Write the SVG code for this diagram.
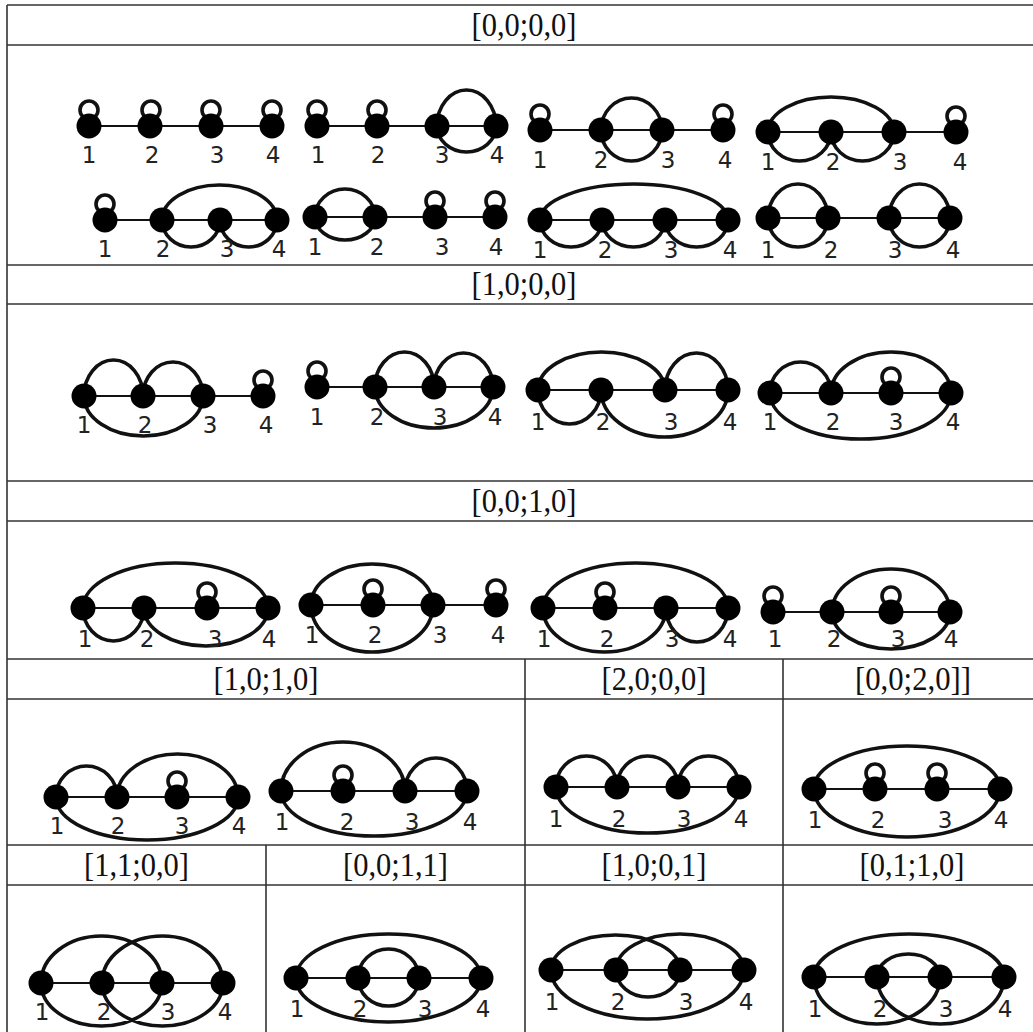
<svg xmlns="http://www.w3.org/2000/svg" width="1033" height="1032" viewBox="0 0 1033 1032">
<style>
.grid line{stroke:#333;stroke-width:1.6}
.hdr{font-family:"Liberation Serif",serif;font-size:33px;fill:#111;text-anchor:middle}
.ln{stroke:#111;stroke-width:2;fill:none}
.arc{stroke:#111;stroke-width:3.6;fill:none}
.loop{stroke:#111;stroke-width:3.6;fill:none}
.nd{fill:#000}
.lb{font-family:"DejaVu Sans",sans-serif;font-size:23px;fill:#222;text-anchor:middle}
</style>
<rect width="1033" height="1032" fill="#fff"/>
<g id="table" class="grid">
<line x1="7" y1="5" x2="1033" y2="5"/>
<line x1="7" y1="45" x2="1033" y2="45"/>
<line x1="7" y1="265" x2="1033" y2="265"/>
<line x1="7" y1="304" x2="1033" y2="304"/>
<line x1="7" y1="481" x2="1033" y2="481"/>
<line x1="7" y1="521" x2="1033" y2="521"/>
<line x1="7" y1="659" x2="1033" y2="659"/>
<line x1="7" y1="699" x2="1033" y2="699"/>
<line x1="7" y1="845" x2="1033" y2="845"/>
<line x1="7" y1="885" x2="1033" y2="885"/>
<line x1="7" y1="5" x2="7" y2="1032"/>
<line x1="525" y1="659" x2="525" y2="1032"/>
<line x1="783" y1="659" x2="783" y2="1032"/>
<line x1="266" y1="845" x2="266" y2="1032"/>
</g>
<g id="headers">
<text class="hdr" x="524" y="36" textLength="105" lengthAdjust="spacingAndGlyphs">[0,0;0,0]</text>
<text class="hdr" x="524" y="295" textLength="105" lengthAdjust="spacingAndGlyphs">[1,0;0,0]</text>
<text class="hdr" x="524" y="512" textLength="105" lengthAdjust="spacingAndGlyphs">[0,0;1,0]</text>
<text class="hdr" x="266" y="690" textLength="105" lengthAdjust="spacingAndGlyphs">[1,0;1,0]</text>
<text class="hdr" x="654" y="690" textLength="105" lengthAdjust="spacingAndGlyphs">[2,0;0,0]</text>
<text class="hdr" x="913" y="690" textLength="116" lengthAdjust="spacingAndGlyphs">[0,0;2,0]]</text>
<text class="hdr" x="136.5" y="876" textLength="105" lengthAdjust="spacingAndGlyphs">[1,1;0,0]</text>
<text class="hdr" x="395.5" y="876" textLength="105" lengthAdjust="spacingAndGlyphs">[0,0;1,1]</text>
<text class="hdr" x="654" y="876" textLength="105" lengthAdjust="spacingAndGlyphs">[1,0;0,1]</text>
<text class="hdr" x="912" y="876" textLength="105" lengthAdjust="spacingAndGlyphs">[0,1;1,0]</text>
</g>
<g id="connectors">
<path class="ln" d="M89 126H272M317 126H496M540 130H723M768 132H956M105 220H277M315 217H495M540 220H728M768 218H950M84 396H263M317 387H493M538 390H728M770 393H951M83 608H268M311 605H496M543 608H728M773 612H950M56 797H238M281 791H467M556 787H739M814 789H1000M41 983H223M296 978H481M551 970H744M814 977H1004"/>
<path class="arc" d="M437 126A29.5 36 0 0 1 496 126M437 126A29.5 26 0 0 0 496 126"/>
<path class="arc" d="M601 130A30.5 32 0 0 1 662 130M601 130A30.5 31 0 0 0 662 130"/>
<path class="arc" d="M768 132A63 35 0 0 1 894 132M768 132A31.5 29 0 0 0 831 132M831 132A31.5 29 0 0 0 894 132"/>
<path class="arc" d="M162 220A57.5 35 0 0 1 277 220M162 220A29 27 0 0 0 220 220M220 220A28.5 27 0 0 0 277 220"/>
<path class="arc" d="M315 217A30 28 0 0 1 375 217M315 217A30 23 0 0 0 375 217"/>
<path class="arc" d="M540 220A94 36 0 0 1 728 220M540 220A31 27 0 0 0 602 220M602 220A31.5 27 0 0 0 665 220M665 220A31.5 27 0 0 0 728 220"/>
<path class="arc" d="M768 218A30 34 0 0 1 828 218M768 218A30 29 0 0 0 828 218M889 218A30.5 34 0 0 1 950 218M889 218A30.5 29 0 0 0 950 218"/>
<path class="arc" d="M84 396A29.5 36 0 0 1 143 396M143 396A30 34 0 0 1 203 396M84 396A59.5 40 0 0 0 203 396"/>
<path class="arc" d="M375 387A29.5 35 0 0 1 434 387M434 387A29.5 34 0 0 1 493 387M375 387A59 41 0 0 0 493 387"/>
<path class="arc" d="M538 390A63.5 38 0 0 1 665 390M665 390A31.5 37 0 0 1 728 390M538 390A31.5 34 0 0 0 601 390M601 390A63.5 47 0 0 0 728 390"/>
<path class="arc" d="M770 393A30.5 31 0 0 1 831 393M831 393A60 41 0 0 1 951 393M770 393A90.5 46 0 0 0 951 393"/>
<path class="arc" d="M83 608A92.5 45 0 0 1 268 608M83 608A30.5 33 0 0 0 144 608M144 608A62 38 0 0 0 268 608"/>
<path class="arc" d="M311 605A61 41 0 0 1 433 605M311 605A61 47 0 0 0 433 605"/>
<path class="arc" d="M543 608A92.5 45 0 0 1 728 608M543 608A61.5 44 0 0 0 666 608M666 608A31 34 0 0 0 728 608"/>
<path class="arc" d="M832 612A59 43 0 0 1 950 612M832 612A59 37 0 0 0 950 612"/>
<path class="arc" d="M56 797A30.5 31 0 0 1 117 797M117 797A60.5 43 0 0 1 238 797M56 797A91 43 0 0 0 238 797"/>
<path class="arc" d="M281 791A62 49 0 0 1 405 791M405 791A31 33 0 0 1 467 791M281 791A93 45 0 0 0 467 791"/>
<path class="arc" d="M556 787A30.5 31 0 0 1 617 787M617 787A30.5 31 0 0 1 678 787M678 787A30.5 31 0 0 1 739 787M556 787A91.5 46 0 0 0 739 787"/>
<path class="arc" d="M814 789A93 43 0 0 1 1000 789M814 789A93 48 0 0 0 1000 789"/>
<path class="arc" d="M41 983A60.5 47 0 0 1 162 983M102 983A60.5 47 0 0 1 223 983M41 983A60.5 43 0 0 0 162 983M102 983A60.5 43 0 0 0 223 983"/>
<path class="arc" d="M296 978A92.5 44 0 0 1 481 978M358 978A30.5 29 0 0 1 419 978M358 978A30.5 28 0 0 0 419 978M296 978A92.5 44 0 0 0 481 978"/>
<path class="arc" d="M551 970A64.5 35 0 0 1 680 970M616 970A64 36 0 0 1 744 970M616 970A32 27 0 0 0 680 970M551 970A96.5 49 0 0 0 744 970"/>
<path class="arc" d="M814 977A95 43 0 0 1 1004 977M877 977A31.5 23 0 0 1 940 977M814 977A63 47 0 0 0 940 977M877 977A63.5 47 0 0 0 1004 977"/>
</g>
<g id="loops">
<circle class="loop" cx="89" cy="110" r="9"/><circle class="loop" cx="151" cy="110" r="9"/><circle class="loop" cx="211" cy="110" r="9"/><circle class="loop" cx="272" cy="110" r="9"/>
<circle class="loop" cx="317" cy="110" r="9"/><circle class="loop" cx="377" cy="110" r="9"/>
<circle class="loop" cx="540" cy="114" r="9"/><circle class="loop" cx="723" cy="114" r="9"/>
<circle class="loop" cx="956" cy="116" r="9"/>
<circle class="loop" cx="105" cy="204" r="9"/>
<circle class="loop" cx="435" cy="201" r="9"/><circle class="loop" cx="495" cy="201" r="9"/>
<circle class="loop" cx="263" cy="380" r="9"/>
<circle class="loop" cx="317" cy="371" r="9"/>
<circle class="loop" cx="891" cy="377" r="9"/>
<circle class="loop" cx="207" cy="592" r="9"/>
<circle class="loop" cx="373" cy="589" r="9"/><circle class="loop" cx="496" cy="589" r="9"/>
<circle class="loop" cx="605" cy="592" r="9"/>
<circle class="loop" cx="773" cy="596" r="9"/><circle class="loop" cx="891" cy="596" r="9"/>
<circle class="loop" cx="177" cy="781" r="9"/>
<circle class="loop" cx="343" cy="775" r="9"/>
<circle class="loop" cx="875" cy="773" r="9"/><circle class="loop" cx="937" cy="773" r="9"/>
</g>
<g id="g-A"><circle class="nd" cx="89" cy="126" r="12.5"/><circle class="nd" cx="150" cy="126" r="12.5"/><circle class="nd" cx="211" cy="126" r="12.5"/><circle class="nd" cx="272" cy="126" r="12.5"/>
<text class="lb" x="89" y="163">1</text><text class="lb" x="152" y="163">2</text><text class="lb" x="217" y="163">3</text><text class="lb" x="273" y="163">4</text></g>
<g id="g-B"><circle class="nd" cx="317" cy="126" r="12.5"/><circle class="nd" cx="377" cy="126" r="12.5"/><circle class="nd" cx="437" cy="126" r="12.5"/><circle class="nd" cx="496" cy="126" r="12.5"/>
<text class="lb" x="318" y="163">1</text><text class="lb" x="378" y="163">2</text><text class="lb" x="442" y="163">3</text><text class="lb" x="497" y="163">4</text></g>
<g id="g-C"><circle class="nd" cx="540" cy="130" r="12.5"/><circle class="nd" cx="601" cy="130" r="12.5"/><circle class="nd" cx="662" cy="130" r="12.5"/><circle class="nd" cx="723" cy="130" r="12.5"/>
<text class="lb" x="540" y="168">1</text><text class="lb" x="601" y="168">2</text><text class="lb" x="668" y="168">3</text><text class="lb" x="725" y="168">4</text></g>
<g id="g-D"><circle class="nd" cx="768" cy="132" r="12.5"/><circle class="nd" cx="831" cy="132" r="12.5"/><circle class="nd" cx="894" cy="132" r="12.5"/><circle class="nd" cx="956" cy="132" r="12.5"/>
<text class="lb" x="768" y="170">1</text><text class="lb" x="833" y="170">2</text><text class="lb" x="900" y="170">3</text><text class="lb" x="960" y="170">4</text></g>
<g id="g-E"><circle class="nd" cx="105" cy="220" r="12.5"/><circle class="nd" cx="162" cy="220" r="12.5"/><circle class="nd" cx="220" cy="220" r="12.5"/><circle class="nd" cx="277" cy="220" r="12.5"/>
<text class="lb" x="105" y="257">1</text><text class="lb" x="163" y="257">2</text><text class="lb" x="227" y="257">3</text><text class="lb" x="279" y="257">4</text></g>
<g id="g-F"><circle class="nd" cx="315" cy="217" r="12.5"/><circle class="nd" cx="375" cy="217" r="12.5"/><circle class="nd" cx="435" cy="217" r="12.5"/><circle class="nd" cx="495" cy="217" r="12.5"/>
<text class="lb" x="315" y="255">1</text><text class="lb" x="377" y="255">2</text><text class="lb" x="442" y="255">3</text><text class="lb" x="496" y="255">4</text></g>
<g id="g-G"><circle class="nd" cx="540" cy="220" r="12.5"/><circle class="nd" cx="602" cy="220" r="12.5"/><circle class="nd" cx="665" cy="220" r="12.5"/><circle class="nd" cx="728" cy="220" r="12.5"/>
<text class="lb" x="540" y="258">1</text><text class="lb" x="605" y="258">2</text><text class="lb" x="671" y="258">3</text><text class="lb" x="730" y="258">4</text></g>
<g id="g-H"><circle class="nd" cx="768" cy="218" r="12.5"/><circle class="nd" cx="828" cy="218" r="12.5"/><circle class="nd" cx="889" cy="218" r="12.5"/><circle class="nd" cx="950" cy="218" r="12.5"/>
<text class="lb" x="768" y="258">1</text><text class="lb" x="831" y="258">2</text><text class="lb" x="895" y="258">3</text><text class="lb" x="953" y="258">4</text></g>
<g id="g-I"><circle class="nd" cx="84" cy="396" r="12.5"/><circle class="nd" cx="143" cy="396" r="12.5"/><circle class="nd" cx="203" cy="396" r="12.5"/><circle class="nd" cx="263" cy="396" r="12.5"/>
<text class="lb" x="84" y="433">1</text><text class="lb" x="145" y="433">2</text><text class="lb" x="210" y="433">3</text><text class="lb" x="266" y="433">4</text></g>
<g id="g-J"><circle class="nd" cx="317" cy="387" r="12.5"/><circle class="nd" cx="375" cy="387" r="12.5"/><circle class="nd" cx="434" cy="387" r="12.5"/><circle class="nd" cx="493" cy="387" r="12.5"/>
<text class="lb" x="317" y="425">1</text><text class="lb" x="377" y="425">2</text><text class="lb" x="440" y="425">3</text><text class="lb" x="495" y="425">4</text></g>
<g id="g-K"><circle class="nd" cx="538" cy="390" r="12.5"/><circle class="nd" cx="601" cy="390" r="12.5"/><circle class="nd" cx="665" cy="390" r="12.5"/><circle class="nd" cx="728" cy="390" r="12.5"/>
<text class="lb" x="538" y="430">1</text><text class="lb" x="603" y="430">2</text><text class="lb" x="671" y="430">3</text><text class="lb" x="730" y="430">4</text></g>
<g id="g-L"><circle class="nd" cx="770" cy="393" r="12.5"/><circle class="nd" cx="831" cy="393" r="12.5"/><circle class="nd" cx="891" cy="393" r="12.5"/><circle class="nd" cx="951" cy="393" r="12.5"/>
<text class="lb" x="770" y="430">1</text><text class="lb" x="833" y="430">2</text><text class="lb" x="896" y="430">3</text><text class="lb" x="953" y="430">4</text></g>
<g id="g-M"><circle class="nd" cx="83" cy="608" r="12.5"/><circle class="nd" cx="144" cy="608" r="12.5"/><circle class="nd" cx="207" cy="608" r="12.5"/><circle class="nd" cx="268" cy="608" r="12.5"/>
<text class="lb" x="85" y="647">1</text><text class="lb" x="147" y="647">2</text><text class="lb" x="215" y="647">3</text><text class="lb" x="269" y="647">4</text></g>
<g id="g-N"><circle class="nd" cx="311" cy="605" r="12.5"/><circle class="nd" cx="373" cy="605" r="12.5"/><circle class="nd" cx="433" cy="605" r="12.5"/><circle class="nd" cx="496" cy="605" r="12.5"/>
<text class="lb" x="312" y="643">1</text><text class="lb" x="375" y="643">2</text><text class="lb" x="440" y="643">3</text><text class="lb" x="498" y="643">4</text></g>
<g id="g-O"><circle class="nd" cx="543" cy="608" r="12.5"/><circle class="nd" cx="605" cy="608" r="12.5"/><circle class="nd" cx="666" cy="608" r="12.5"/><circle class="nd" cx="728" cy="608" r="12.5"/>
<text class="lb" x="544" y="647">1</text><text class="lb" x="607" y="647">2</text><text class="lb" x="672" y="647">3</text><text class="lb" x="730" y="647">4</text></g>
<g id="g-P"><circle class="nd" cx="773" cy="612" r="12.5"/><circle class="nd" cx="832" cy="612" r="12.5"/><circle class="nd" cx="891" cy="612" r="12.5"/><circle class="nd" cx="950" cy="612" r="12.5"/>
<text class="lb" x="775" y="647">1</text><text class="lb" x="834" y="647">2</text><text class="lb" x="898" y="647">3</text><text class="lb" x="951" y="647">4</text></g>
<g id="g-Q"><circle class="nd" cx="56" cy="797" r="12.5"/><circle class="nd" cx="117" cy="797" r="12.5"/><circle class="nd" cx="177" cy="797" r="12.5"/><circle class="nd" cx="238" cy="797" r="12.5"/>
<text class="lb" x="57" y="834">1</text><text class="lb" x="118" y="834">2</text><text class="lb" x="182" y="834">3</text><text class="lb" x="239" y="834">4</text></g>
<g id="g-R"><circle class="nd" cx="281" cy="791" r="12.5"/><circle class="nd" cx="343" cy="791" r="12.5"/><circle class="nd" cx="405" cy="791" r="12.5"/><circle class="nd" cx="467" cy="791" r="12.5"/>
<text class="lb" x="282" y="830">1</text><text class="lb" x="347" y="830">2</text><text class="lb" x="412" y="830">3</text><text class="lb" x="470" y="830">4</text></g>
<g id="g-S"><circle class="nd" cx="556" cy="787" r="12.5"/><circle class="nd" cx="617" cy="787" r="12.5"/><circle class="nd" cx="678" cy="787" r="12.5"/><circle class="nd" cx="739" cy="787" r="12.5"/>
<text class="lb" x="556" y="827">1</text><text class="lb" x="619" y="827">2</text><text class="lb" x="684" y="827">3</text><text class="lb" x="741" y="827">4</text></g>
<g id="g-T"><circle class="nd" cx="814" cy="789" r="12.5"/><circle class="nd" cx="875" cy="789" r="12.5"/><circle class="nd" cx="937" cy="789" r="12.5"/><circle class="nd" cx="1000" cy="789" r="12.5"/>
<text class="lb" x="815" y="828">1</text><text class="lb" x="878" y="828">2</text><text class="lb" x="945" y="828">3</text><text class="lb" x="1001" y="828">4</text></g>
<g id="g-U"><circle class="nd" cx="41" cy="983" r="12.5"/><circle class="nd" cx="102" cy="983" r="12.5"/><circle class="nd" cx="162" cy="983" r="12.5"/><circle class="nd" cx="223" cy="983" r="12.5"/>
<text class="lb" x="42" y="1020">1</text><text class="lb" x="104" y="1020">2</text><text class="lb" x="168" y="1020">3</text><text class="lb" x="225" y="1020">4</text></g>
<g id="g-V"><circle class="nd" cx="296" cy="978" r="12.5"/><circle class="nd" cx="358" cy="978" r="12.5"/><circle class="nd" cx="419" cy="978" r="12.5"/><circle class="nd" cx="481" cy="978" r="12.5"/>
<text class="lb" x="297" y="1017">1</text><text class="lb" x="360" y="1017">2</text><text class="lb" x="425" y="1017">3</text><text class="lb" x="483" y="1017">4</text></g>
<g id="g-W"><circle class="nd" cx="551" cy="970" r="12.5"/><circle class="nd" cx="616" cy="970" r="12.5"/><circle class="nd" cx="680" cy="970" r="12.5"/><circle class="nd" cx="744" cy="970" r="12.5"/>
<text class="lb" x="552" y="1010">1</text><text class="lb" x="618" y="1010">2</text><text class="lb" x="686" y="1010">3</text><text class="lb" x="746" y="1010">4</text></g>
<g id="g-X"><circle class="nd" cx="814" cy="977" r="12.5"/><circle class="nd" cx="877" cy="977" r="12.5"/><circle class="nd" cx="940" cy="977" r="12.5"/><circle class="nd" cx="1004" cy="977" r="12.5"/>
<text class="lb" x="815" y="1017">1</text><text class="lb" x="880" y="1017">2</text><text class="lb" x="946" y="1017">3</text><text class="lb" x="1005" y="1017">4</text></g>
</svg>
